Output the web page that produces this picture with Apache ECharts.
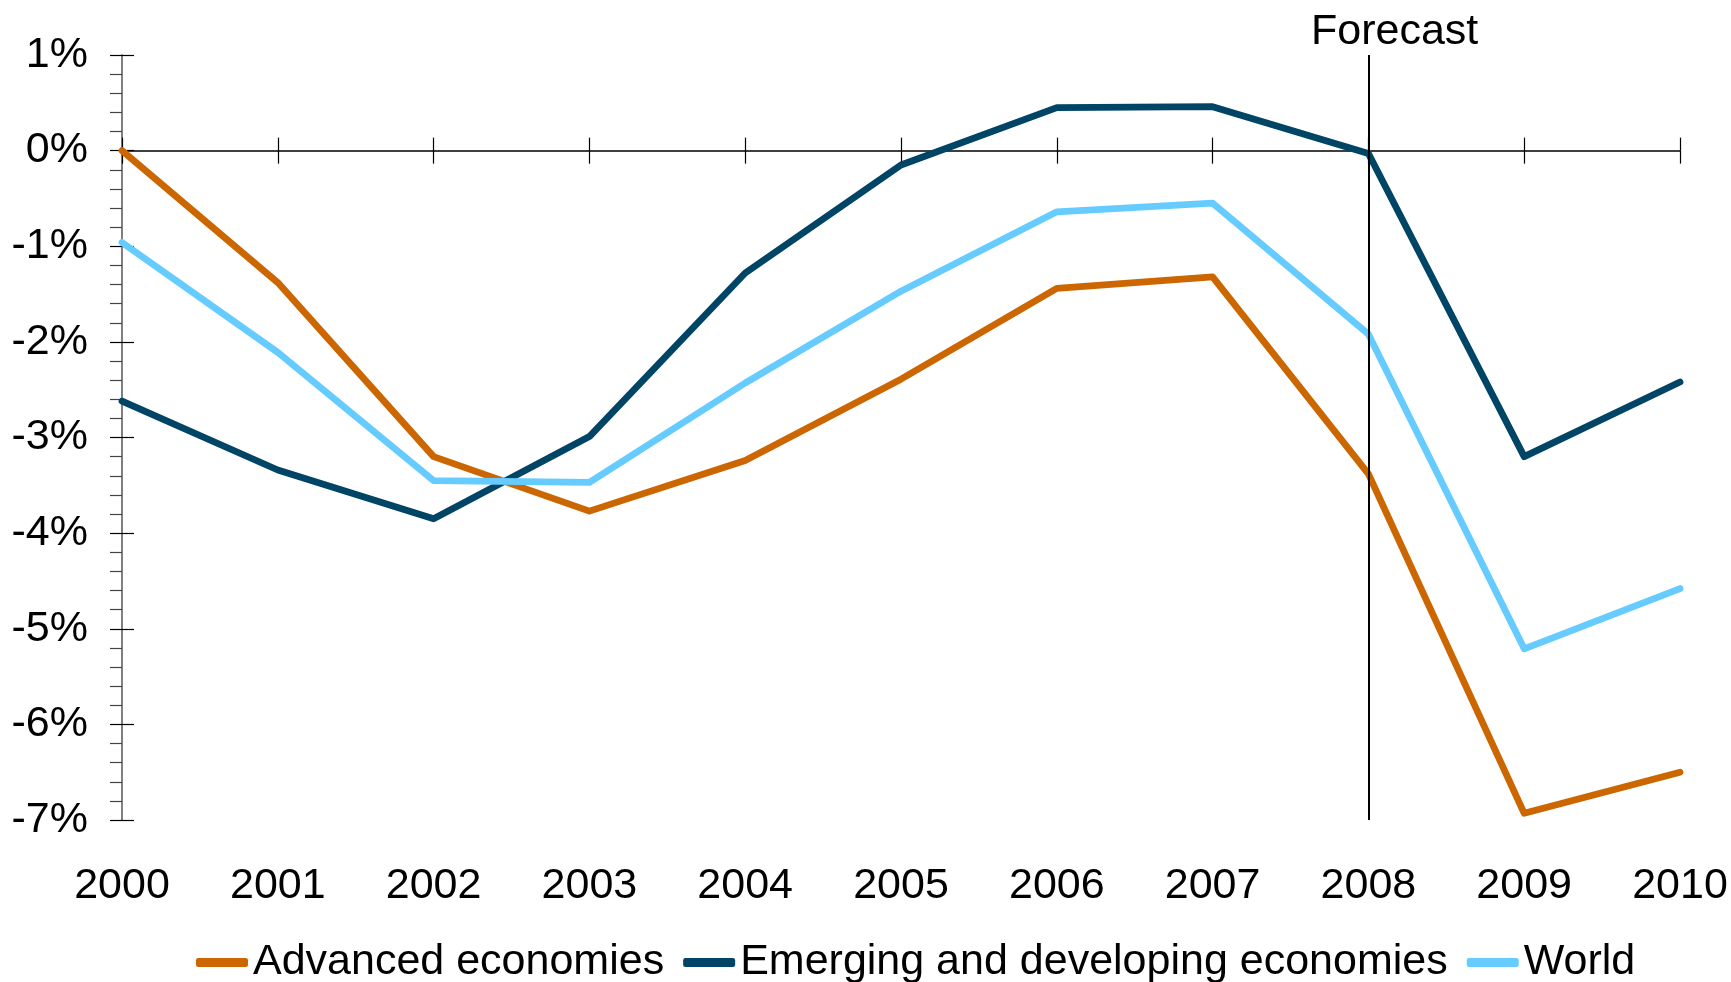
<!DOCTYPE html>
<html>
<head>
<meta charset="utf-8">
<title>Output gap</title>
<script src="https://cdn.jsdelivr.net/npm/echarts@6/dist/echarts.min.js"></script>
<style>
	html, body { margin: 0; padding: 0; background: #fff; }
	#chart { width: 1731px; height: 982px; }
</style>
</head>
<body>
<div id="chart"></div>
<script>
var years = ['2000', '2001', '2002', '2003', '2004', '2005', '2006', '2007', '2008', '2009', '2010'];
var advanced = [0, -1.38, -3.2, -3.77, -3.24, -2.39, -1.44, -1.32, -3.38, -6.93, -6.5];
var emerging = [-2.62, -3.34, -3.85, -2.99, -1.28, -0.15, 0.45, 0.46, -0.03, -3.2, -2.42];
var world = [-0.96, -2.11, -3.45, -3.47, -2.43, -1.47, -0.64, -0.55, -1.92, -5.21, -4.58];
var seriesNames = ['Advanced economies', 'Emerging and developing economies', 'World'];
var seriesColors = ['#cc6600', '#004466', '#66ccff'];
var forecastYear = '2008';

var font = "'Liberation Sans', Arial, sans-serif";
var fontSize = 43;

var chart = echarts.init(document.getElementById('chart'));

/*一条折线*/
function makeLine(name, data, color, withForecast) {
	var s = {
		name: name,
		type: 'line',
		data: data,
		xAxisIndex: 0,
		yAxisIndex: 0,
		symbol: 'none',
		silent: true,
		lineStyle: { color: color, width: 6.8, cap: 'round', join: 'round' },
		itemStyle: { color: color }
	};
	if (withForecast) {
		s.markLine = {
			silent: true,
			symbol: 'none',
			label: { show: false },
			lineStyle: { color: '#000', width: 2, type: 'solid' },
			data: [{ xAxis: forecastYear }]
		};
	}
	return s;
}

var option = {
	animation: false,
	backgroundColor: '#fff',
	textStyle: { fontFamily: font },
	title: {
		text: 'Forecast',
		left: 1311,
		top: 11,
		padding: 0,
		textStyle: { fontFamily: font, fontSize: fontSize, fontWeight: 'normal', color: '#000' }
	},
	grid: { left: 122, right: 51, top: 55, bottom: 162, containLabel: false },
	legend: {
		left: 196,
		top: 941,
		padding: 0,
		itemGap: 19,
		itemWidth: 52,
		itemHeight: 9,
		icon: 'roundRect',
		textStyle: { fontFamily: font, fontSize: fontSize, color: '#000' },
		data: seriesNames
	},
	xAxis: [
		{
			// 底部年份标签
			type: 'category',
			data: years,
			position: 'bottom',
			boundaryGap: false,
			axisLine: { show: false, onZero: false },
			axisTick: { show: false },
			axisLabel: { fontFamily: font, fontSize: fontSize, color: '#000', margin: 45, interval: 0 }
		},
		{
			// 零线，刻度向下
			type: 'category',
			data: years,
			position: 'bottom',
			boundaryGap: false,
			axisLine: { show: true, onZero: true, lineStyle: { color: '#000', width: 1.5 } },
			axisTick: { show: true, interval: 0, length: 13, lineStyle: { color: '#000', width: 1.2 } },
			axisLabel: { show: false }
		},
		{
			// 零线，刻度向上
			type: 'category',
			data: years,
			position: 'top',
			boundaryGap: false,
			axisLine: { show: false, onZero: true },
			axisTick: { show: true, interval: 0, length: 13, lineStyle: { color: '#000', width: 1.2 } },
			axisLabel: { show: false }
		}
	],
	yAxis: [
		{
			type: 'value',
			position: 'left',
			min: -7,
			max: 1,
			interval: 1,
			axisLine: { show: true, onZero: false, lineStyle: { color: '#555', width: 1.5 } },
			axisTick: { show: true, length: 12, lineStyle: { color: '#000', width: 1.2 } },
			minorTick: { show: true, splitNumber: 5, length: 12, lineStyle: { color: '#444', width: 1.2 } },
			splitLine: { show: false },
			axisLabel: {
				fontFamily: font,
				fontSize: fontSize,
				color: '#000',
				margin: 34,
				formatter: '{value}%'
			}
		},
		{
			type: 'value',
			position: 'left',
			min: -7,
			max: 1,
			interval: 1,
			axisLine: { show: false, onZero: false },
			axisTick: { show: true, inside: true, length: 12, lineStyle: { color: '#000', width: 1.2 } },
			splitLine: { show: false },
			axisLabel: { show: false }
		}
	],
	series: [
		makeLine(seriesNames[0], advanced, seriesColors[0], true),
		makeLine(seriesNames[1], emerging, seriesColors[1], false),
		makeLine(seriesNames[2], world, seriesColors[2], false)
	]
};

chart.setOption(option);
</script>
</body>
</html>
